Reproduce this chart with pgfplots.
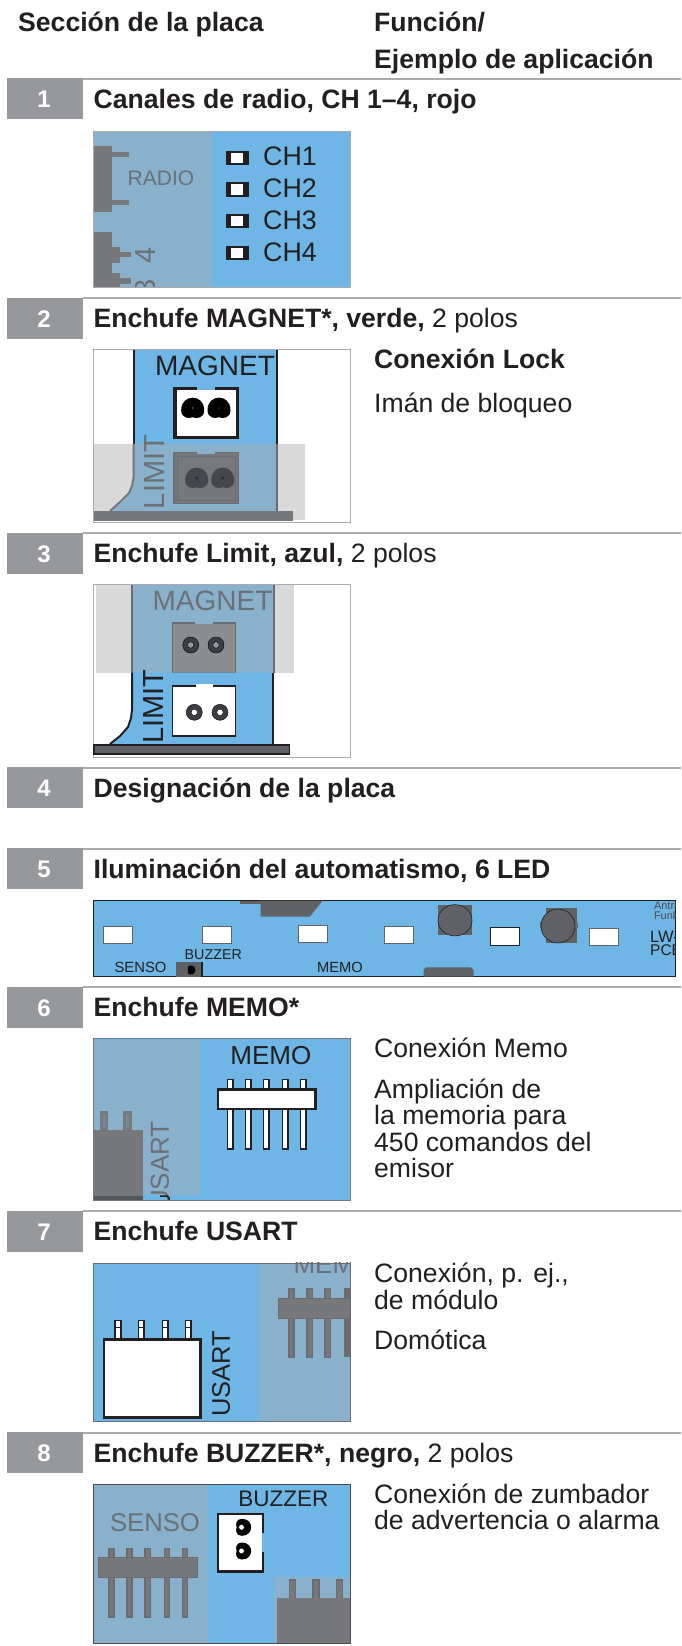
\documentclass[border=0pt]{standalone}
\usepackage{pgfplots}
\usepackage{fontspec}
\setmainfont{Liberation Sans}
\pgfplotsset{compat=1.18}
\definecolor{blu}{HTML}{6DB6E5}
\definecolor{mut}{HTML}{8AB1CC}
\definecolor{dk}{HTML}{77787B}
\definecolor{dkb}{HTML}{6A6C70}
\definecolor{bar}{HTML}{97989C}
\definecolor{rul}{HTML}{ABABAB}
\definecolor{txt}{HTML}{231F20}
\definecolor{lg}{HTML}{D9D9D9}
\definecolor{gt}{HTML}{6B7075}
\definecolor{blk}{HTML}{231F20}
\definecolor{ring}{HTML}{3C3E45}
\pgfdeclareplotmark{blob}{%
 \pgfpathmoveto{\pgfqpoint{0pt}{-.8\pgfplotmarksize}}%
 \pgfpathcurveto{\pgfqpoint{-.3\pgfplotmarksize}{-.95\pgfplotmarksize}}{\pgfqpoint{-1\pgfplotmarksize}{-.9\pgfplotmarksize}}{\pgfqpoint{-1\pgfplotmarksize}{-.2\pgfplotmarksize}}%
 \pgfpathcurveto{\pgfqpoint{-1\pgfplotmarksize}{.55\pgfplotmarksize}}{\pgfqpoint{-.5\pgfplotmarksize}{.9\pgfplotmarksize}}{\pgfqpoint{0pt}{.9\pgfplotmarksize}}%
 \pgfpathcurveto{\pgfqpoint{.5\pgfplotmarksize}{.9\pgfplotmarksize}}{\pgfqpoint{1\pgfplotmarksize}{.55\pgfplotmarksize}}{\pgfqpoint{1\pgfplotmarksize}{-.2\pgfplotmarksize}}%
 \pgfpathcurveto{\pgfqpoint{1\pgfplotmarksize}{-.9\pgfplotmarksize}}{\pgfqpoint{.3\pgfplotmarksize}{-.95\pgfplotmarksize}}{\pgfqpoint{0pt}{-.8\pgfplotmarksize}}%
 \pgfpathclose\pgfusepathqfill}
% filled rectangle x1 y1 x2 y2 colour
\newcommand\R[5]{\addplot[fill=#5,draw=none] coordinates {(#1,#2)(#3,#2)(#3,#4)(#1,#4)} -- cycle;}
% framed rectangle x1 y1 x2 y2 fill draw width
\newcommand\F[7]{\addplot[fill=#5,draw=#6,line width=#7pt] coordinates {(#1,#2)(#3,#2)(#3,#4)(#1,#4)} -- cycle;}
% frame only
\newcommand\E[6]{\addplot[draw=#5,line width=#6pt] coordinates {(#1,#2)(#3,#2)(#3,#4)(#1,#4)} -- cycle;}
% text left baseline: x y size colour text
\newcommand\T[5]{\node[anchor=base west,inner sep=0pt,text=#4,font=\fontsize{#3}{#3}\selectfont] at (axis cs:#1,#2) {#5};}
% text centred x y size colour text
\newcommand\C[5]{\node[anchor=center,inner sep=0pt,text=#4,font=\fontsize{#3}{#3}\selectfont] at (axis cs:#1,#2) {#5};}
% rotated text centred
\newcommand\V[5]{\node[anchor=center,rotate=90,inner sep=0pt,text=#4,font=\fontsize{#3}{#3}\selectfont] at (axis cs:#1,#2) {#5};}
% section bar: top y, number
\newcommand\Bar[2]{\R{7}{#1}{82.5}{#1+41}{bar}\R{82.5}{#1-0.5}{681}{#1+1.5}{rul}}
\newcommand\N[2]{\node[anchor=center,inner sep=0pt,text=white,font=\fontsize{24}{24}\selectfont\bfseries] at (axis cs:44,#1+21.5) {#2};}
% pin: xc y1 y2 halfwidth outer inner
\newcommand\Pin[6]{\F{#1-#4}{#2}{#1+#4}{#3}{#6}{#5}{1.6}}
\newcommand\Blobs[4]{\addplot[only marks,mark=blob,mark size=#3,mark options={fill=#4,draw=none,solid}] coordinates {#1};\addplot[only marks,mark=*,mark size=1,mark options={fill=#2,draw=none}] coordinates {#1};}
\newcommand\Rings[4]{\addplot[only marks,mark=*,mark size=#2,mark options={fill=#3,draw=none}] coordinates {#1};\addplot[only marks,mark=*,mark size=3.2,mark options={fill=#4,draw=none}] coordinates {#1};}
\begin{document}
\begin{tikzpicture}
\begin{axis}[at={(0,0)},anchor=south west,width=681pt,height=1646pt,scale only axis,
  xmin=0,xmax=681,ymin=0,ymax=1646,y dir=reverse,axis lines=none,ticks=none,clip=false]
\R{0}{0}{681}{1646}{white}
% header
\T{18}{32}{26.6}{txt}{\bfseries Sección de la placa}
\T{374}{32}{26.6}{txt}{\bfseries Función/}
\T{374}{69}{26.6}{txt}{\bfseries Ejemplo de aplicación}
% bars
\Bar{78}{1}\Bar{297.5}{2}\Bar{532.5}{3}\Bar{767}{4}\Bar{848}{5}\Bar{986.5}{6}\Bar{1210.7}{7}\Bar{1432}{8}
\N{78}{1}\N{297.5}{2}\N{532.5}{3}\N{767}{4}\N{848}{5}\N{986.5}{6}\N{1210.7}{7}\N{1432}{8}
\T{93.5}{108}{26.6}{txt}{\bfseries Canales de radio, CH 1–4, rojo}
\T{93.5}{327.5}{26.6}{txt}{\textbf{Enchufe MAGNET*, verde,} 2 polos}
\T{93.5}{562.5}{26.6}{txt}{\textbf{Enchufe Limit, azul,} 2 polos}
\T{93.5}{797}{26.6}{txt}{\bfseries Designación de la placa}
\T{93.5}{878}{26.6}{txt}{\bfseries Iluminación del automatismo, 6 LED}
\T{93.5}{1016.5}{26.6}{txt}{\bfseries Enchufe MEMO*}
\T{93.5}{1240.7}{26.6}{txt}{\bfseries Enchufe USART}
\T{93.5}{1462}{26.6}{txt}{\textbf{Enchufe BUZZER*, negro,} 2 polos}
% ---------- image 1
\R{93.4}{131}{211.5}{287}{mut}\R{211.5}{131}{350}{287}{blu}
\R{93.4}{145.7}{112}{211.7}{dk}\R{112}{151.7}{129}{157}{dk}\R{112}{200}{129}{205.3}{dk}
\R{93.4}{232}{112}{287}{dk}
\R{112}{246.7}{120}{262.7}{dk}\R{120}{251.7}{131}{257.3}{dk}
\R{112}{273}{120}{287}{dk}\R{120}{278}{131}{284}{dk}
\C{161}{178}{21}{gt}{RADIO}
\V{145.5}{255}{29}{gt}{4}\V{145.5}{287}{29}{gt}{3}
\R{90}{287.6}{354}{296}{white}
\E{93.4}{131}{350}{287}{rul}{1}
\R{226}{150.7}{249}{165}{blk}\R{226}{182}{249}{197}{blk}\R{226}{214}{249}{228}{blk}\R{226}{246}{249}{260}{blk}
\R{231}{153}{243}{163}{white}\R{231}{184}{243}{195}{white}\R{231}{216}{243}{226}{white}\R{231}{248}{243}{258}{white}
\T{263}{165.5}{26.8}{txt}{CH1}\T{263}{197}{26.8}{txt}{CH2}\T{263}{229}{26.8}{txt}{CH3}\T{263}{261}{26.8}{txt}{CH4}
% ---------- image 2
\E{93.4}{349.5}{350}{522}{rul}{1}
\R{133}{350}{276.7}{443.5}{blu}
\R{94}{443.5}{305}{520}{lg}
\addplot[fill=mut,draw=none] coordinates {(133,443.5)(276.7,443.5)(276.7,511)(110,511)(120,502)(129,493)(132,486)(133,478)} -- cycle;
\addplot[draw=blk,line width=2pt] coordinates {(133.5,350)(133.5,443.5)};
\addplot[draw=blk,line width=2pt] coordinates {(276.5,350)(276.5,443.5)};
\addplot[draw=dk,line width=2pt] coordinates {(133.5,443.5)(133.5,478)(132,486)(129,493)(120,502)(110,511)};
\addplot[draw=dkb,line width=2pt] coordinates {(276.5,443.5)(276.5,511)};
\R{93.5}{510.7}{293}{521}{dk}
\C{215}{366}{28}{txt}{MAGNET}
\R{173.3}{387.3}{239}{439}{blk}\R{176.5}{390.3}{236}{435.5}{white}\R{197}{387.3}{215}{390.3}{blu}
\Blobs{(192.7,408)(219,408)}{white}{11.5}{black}
\V{155}{472}{29}{gt}{LIMIT}
\F{174}{452.5}{238.5}{503.5}{dk}{dkb}{1.5}
\R{197}{451}{215}{453.5}{mut}
\E{177}{456}{235.5}{500}{dkb}{1}
\Blobs{(196.7,478)(222.7,478)}{dk}{11.5}{ring!85!dk}
% ---------- image 3
\E{93.4}{584.5}{350}{757}{rul}{1}
\R{96}{585}{294}{672.7}{lg}
\R{132}{585}{274}{672.7}{mut}
\addplot[draw=dkb,line width=2pt] coordinates {(132,585)(132,672.7)};
\addplot[draw=dkb,line width=2pt] coordinates {(273.5,585)(273.5,672.7)};
\C{212.5}{601}{28}{gt}{MAGNET}
\F{172.5}{623}{235.5}{672.7}{bar!92!black}{dkb}{1.6}
\R{195}{621.5}{213}{624}{mut}
\Rings{(190.7,645)(216,645)}{8}{ring}{bar}
\addplot[fill=blu,draw=none] coordinates {(132,672.7)(273,672.7)(273,744)(110,744)(120,736)(128,727)(131,718)(132,710)} -- cycle;
\addplot[draw=blk,line width=2pt] coordinates {(132,672.7)(132,710)(131,718)(128,727)(120,736)(110,744)};
\addplot[draw=blk,line width=2pt] coordinates {(273,672.7)(273,744)};
\F{94}{744.8}{289.3}{754}{dkb!90!black}{blk}{1.6}
\V{154}{706.5}{29}{blk}{LIMIT}
\F{172.5}{686}{235.5}{736}{white}{blk}{1.6}
\R{195.5}{684}{213}{687.5}{white}
\Rings{(194.3,712.3)(220,712.3)}{8}{ring}{white}
% ---------- image 5
\F{93.4}{900.5}{675.5}{976.5}{blu}{blk}{1}
\R{240}{900.5}{262}{903.5}{dkb!90!black}
\addplot[fill=dkb!90!black,draw=none] coordinates {(260.6,900.5)(322.8,900.5)(309.7,916.7)(260.6,916.7)} -- cycle;
\F{103.4}{926}{132.5}{943.3}{white}{blk!70}{1}
\F{202.9}{926}{231.5}{943.3}{white}{blk!70}{1}
\F{298.4}{925.5}{327.5}{942.5}{white}{blk!70}{1}
\F{384.4}{926}{413.5}{943}{white}{blk!70}{1}
\F{490}{927.7}{519}{945}{white}{blk}{1}
\F{589.5}{928.3}{618.6}{945.7}{white}{blk!70}{1}
\R{437.9}{905}{471.8}{935.3}{dkb!90!black}
\addplot[only marks,mark=*,mark size=17,mark options={fill=dkb!90!black,draw=blk,line width=.6pt,yscale=.92}] coordinates {(455,920.3)};
\R{546}{908}{577}{943.3}{dkb!90!black}
\R{539.5}{922}{577.5}{928}{dkb}
\addplot[only marks,mark=*,mark size=17,mark options={fill=dkb!90!black,draw=blk,line width=.6pt}] coordinates {(558,926)};
\T{653.8}{909}{11}{blk!80}{Antri}\T{653.8}{919.5}{11}{blk!80}{Funk}
\T{650}{942.5}{16.5}{blk}{LW-}\T{650}{955.5}{15.5}{blk}{PCB}
\R{676}{898}{681}{960}{white}
\C{140.5}{967}{14.8}{blk}{SENSO}\C{213.3}{954.7}{14.3}{blk}{BUZZER}\C{340}{967.7}{14.7}{blk}{MEMO}
\R{176}{961.7}{201}{976.5}{dkb!90!black}\R{201}{961.7}{203.3}{976.5}{blk}
\addplot[only marks,mark=blob,mark size=4.5,mark options={fill=black,draw=none,rotate=-90}] coordinates {(191.5,970)};
\addplot[fill=dkb!90!black,draw=none] coordinates {(423.5,976.5)(423.5,970)(426,967.3)(471,967.3)(473.5,970)(473.5,976.5)} -- cycle;
% ---------- image 6
\R{93.3}{1038.5}{350}{1200}{blu}
\R{93.3}{1039.5}{200}{1195}{mut}
\V{160}{1165}{26}{gt}{USART}
\addplot[draw=blk,line width=1.5pt] coordinates {(160,1196)(167,1196)(169,1198)(169,1200)};
\R{100}{1110.7}{108.3}{1130}{dk}\R{123.3}{1110.7}{131.7}{1130}{dk}
\R{102.5}{1114}{105.8}{1128}{dkb!60!mut}\R{125.8}{1114}{129.2}{1128}{dkb!60!mut}
\R{93.3}{1129.5}{142.7}{1200}{dk}\R{93.3}{1196}{142.7}{1200}{dkb!80!black}
\R{90}{1200.6}{354}{1209.5}{white}
\E{93.3}{1038.5}{350}{1200}{dk}{1}
\C{270.8}{1055.7}{26}{txt}{MEMO}
\Pin{230}{1079.3}{1149}{2.7}{blk}{white}\Pin{248.3}{1079.3}{1149}{2.7}{blk}{white}\Pin{266.3}{1079.3}{1149}{2.7}{blk}{white}\Pin{285.3}{1079.3}{1149}{2.7}{blk}{white}\Pin{303.3}{1079.3}{1149}{2.7}{blk}{white}
\F{218}{1089.5}{315.5}{1109}{white}{blk}{2.4}
% ---------- image 7
\R{93.3}{1263}{259.3}{1421.5}{blu}\R{259.3}{1263}{350}{1421.5}{mut}
\T{293.3}{1273.3}{26}{gt}{MEMO}
\Pin{291.3}{1288.3}{1357.3}{2.6}{dkb}{dk}\Pin{309.7}{1288.3}{1357.3}{2.6}{dkb}{dk}\Pin{327.7}{1288.3}{1357.3}{2.6}{dkb}{dk}
\R{343.5}{1288.3}{350}{1357.3}{dkb}
\F{278.8}{1298.8}{350}{1318}{dk}{dkb}{1}
\R{350.5}{1250}{376}{1274.5}{white}\R{350.5}{1274}{372}{1360}{white}\R{90}{1250}{354}{1262.4}{white}
\E{93.3}{1263}{350}{1421.5}{dkb}{1}
\Pin{118}{1320.5}{1338.7}{2.8}{blk}{white}\Pin{141.3}{1320.5}{1338.7}{2.8}{blk}{white}\Pin{165.3}{1320.5}{1338.7}{2.8}{blk}{white}\Pin{188.3}{1320.5}{1338.7}{2.8}{blk}{white}
\addplot[draw=blk,line width=.6pt] coordinates {(115,1327.7)(121,1327.7)};
\addplot[draw=blk,line width=.6pt] coordinates {(138.3,1327.7)(144.3,1327.7)};
\addplot[draw=blk,line width=.6pt] coordinates {(162.3,1327.7)(168.3,1327.7)};
\addplot[draw=blk,line width=.6pt] coordinates {(185.3,1327.7)(191.3,1327.7)};
\F{103.7}{1339.5}{200.5}{1417.5}{white}{blk}{2.2}
\V{221}{1373.7}{25.5}{blk}{USART}
% ---------- image 8
\R{93.3}{1484.5}{350}{1643}{blu}\R{93.3}{1484.5}{208.3}{1643}{mut}
\C{155}{1522.7}{25.7}{gt}{SENSO}
\Pin{111.3}{1548.3}{1616.7}{2.6}{dkb}{dk}\Pin{129.3}{1548.3}{1616.7}{2.6}{dkb}{dk}\Pin{147.7}{1548.3}{1616.7}{2.6}{dkb}{dk}\Pin{167}{1548.3}{1616.7}{2.6}{dkb}{dk}\Pin{185}{1548.3}{1616.7}{2.6}{dkb}{dk}
\F{98.8}{1557.8}{197.2}{1577.2}{dk}{dkb}{1}
\C{283.3}{1499.3}{22.5}{blk}{BUZZER}
\R{216.7}{1512.7}{264.3}{1572.7}{blk}\R{218.7}{1515}{261.7}{1570}{white}\R{262}{1533.3}{265}{1551.7}{blu}
\addplot[only marks,mark=blob,mark size=8.5,mark options={fill=black,draw=none,rotate=-90}] coordinates {(243.5,1527.3)(243.5,1551)};
\addplot[only marks,mark=*,mark size=2.8,mark options={fill=white,draw=none}] coordinates {(241.5,1527.3)(241.5,1551)};
\R{274}{1576.7}{350}{1643}{mut}
\Pin{292.3}{1580}{1598.3}{3}{dkb}{dk}\Pin{315.7}{1580}{1598.3}{3}{dkb}{dk}\Pin{339.3}{1580}{1598.3}{3}{dkb}{dk}
\R{277.3}{1597.5}{350}{1643}{dk}
\E{93.3}{1484.5}{350}{1643}{blk!80}{1}
% ---------- right column
\T{374}{368}{26.6}{txt}{\bfseries Conexión Lock}
\T{374}{412.5}{26.6}{txt}{Imán de bloqueo}
\T{374}{1057.3}{26.6}{txt}{Conexión Memo}
\T{374}{1098.3}{26.6}{txt}{Ampliación de}
\T{374}{1124.5}{26.6}{txt}{la memoria para}
\T{374}{1151.5}{26.6}{txt}{450 comandos del}
\T{374}{1177.7}{26.6}{txt}{emisor}
\T{374}{1282.3}{26.6}{txt}{Conexión, p. ej.,}
\T{374}{1309}{26.6}{txt}{de módulo}
\T{374}{1349}{26.6}{txt}{Domótica}
\T{374}{1503.3}{26.6}{txt}{Conexión de zumbador}
\T{374}{1529.3}{26.6}{txt}{de advertencia o alarma}
\end{axis}
\pgfresetboundingbox
\path[use as bounding box] (0,0) rectangle (681pt,1646pt);
\end{tikzpicture}
\end{document}
